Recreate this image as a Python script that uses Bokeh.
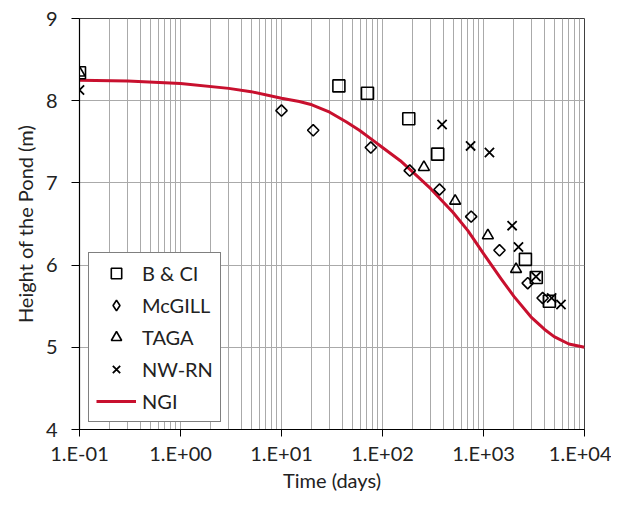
import math
from bokeh.plotting import figure
from bokeh.models import FixedTicker, Range1d, Legend, LegendItem
from bokeh.embed import file_html
from bokeh.resources import INLINE

# ---- data ----
bci_t = [0.1, 37, 71, 182, 352, 2600, 3330, 4490]
bci_h = [8.34, 8.18, 8.09, 7.78, 7.35, 6.07, 5.85, 5.56]

mcgill_t = [10, 20.6, 76.6, 186, 367, 755, 1440, 2740, 3850]
mcgill_h = [7.88, 7.64, 7.43, 7.15, 6.92, 6.59, 6.18, 5.78, 5.60]

taga_t = [0.1, 257, 524, 1105, 2100]
taga_h = [8.34, 7.19, 6.78, 6.36, 5.95]

nwrn_t = [0.1, 389, 745, 1145, 1920, 2220, 3310, 4730, 5850]
nwrn_h = [8.13, 7.71, 7.45, 7.37, 6.48, 6.22, 5.86, 5.60, 5.52]

ngi_t = [0.1, 0.3, 1, 3, 5, 10, 15, 20, 30, 44, 59, 80, 100, 150, 200, 300, 500,
         700, 1000, 1500, 2000, 3000, 4000, 5000, 7000, 10000]
ngi_h = [8.25, 8.24, 8.21, 8.15, 8.11, 8.03, 7.99, 7.95, 7.86, 7.74, 7.64, 7.52, 7.43,
         7.27, 7.13, 6.93, 6.64, 6.42, 6.14, 5.83, 5.62, 5.36, 5.22, 5.13, 5.04, 5.00]

x_ticks = [0.1, 1, 10, 100, 1000, 10000]
x_tick_labels = ["1.E-01", "1.E+00", "1.E+01", "1.E+02", "1.E+03", "1.E+04"]
y_ticks = [4, 5, 6, 7, 8, 9]

FONT = "Lato"
FS = "20px"

p = figure(width=611, height=494, x_axis_type="log",
           x_range=Range1d(0.1, 10000), y_range=Range1d(4, 9),
           output_backend="svg", toolbar_location=None,
           min_border_left=79, min_border_top=18, min_border_right=27, min_border_bottom=61)

p.outline_line_color = "#404040"
p.outline_line_width = 1

minor = [m * d for d in x_ticks[:-1] for m in range(2, 10)]
p.xaxis.ticker = FixedTicker(ticks=x_ticks, minor_ticks=minor)
p.xaxis.major_label_overrides = {t: l for t, l in zip(x_ticks, x_tick_labels)}
p.yaxis.ticker = FixedTicker(ticks=y_ticks)

for ax in (p.xaxis, p.yaxis):
    ax.major_tick_in = 0
    ax.minor_tick_in = 0
    ax.minor_tick_out = 0
    ax.axis_line_color = "black"
    ax.axis_line_width = 1.2
    ax.major_tick_line_color = "black"
    ax.major_label_text_font = FONT
    ax.major_label_text_font_size = FS
    ax.major_label_text_color = "#222222"
    ax.axis_label_text_font = FONT
    ax.axis_label_text_font_size = FS
    ax.axis_label_text_font_style = "normal"
    ax.axis_label_text_color = "#222222"

p.xaxis.axis_label = "Time (days)"
p.yaxis.axis_label = "Height of the Pond (m)"
p.xaxis.major_tick_out = 7
p.yaxis.major_tick_out = 8
p.xaxis.major_label_standoff = 4
p.xaxis.axis_label_standoff = 0
p.yaxis.major_label_standoff = 14
p.yaxis.axis_label_standoff = 6

p.xgrid.grid_line_color = "#aaaaaa"
p.xgrid.minor_grid_line_color = "#aaaaaa"
p.xgrid.grid_line_width = 1
p.xgrid.minor_grid_line_width = 1
p.ygrid.grid_line_color = "#aaaaaa"

ngi = p.line(ngi_t, ngi_h, line_color="#C8102E", line_width=3, line_join="round")
r_bci = p.scatter(bci_t, bci_h, marker="square", size=12, fill_color=None,
                  line_color="black", line_width=1.6)
r_mc = p.scatter(mcgill_t, mcgill_h, marker="square", angle=math.pi / 4, size=8,
                 fill_color=None, line_color="black", line_width=1.6)
r_mc_key = p.scatter(mcgill_t, mcgill_h, marker="diamond", size=12, fill_color=None,
                     line_color="black", line_width=1.6, visible=False)
r_ta = p.scatter(taga_t, taga_h, marker="triangle", size=11, fill_color=None,
                 line_color="black", line_width=1.6)
r_nw = p.scatter(nwrn_t, nwrn_h, marker="x", size=13, line_color="black", line_width=1.8)

legend = Legend(items=[
    LegendItem(label="B & CI", renderers=[r_bci]),
    LegendItem(label="McGILL", renderers=[r_mc_key]),
    LegendItem(label="TAGA", renderers=[r_ta]),
    LegendItem(label="NW-RN", renderers=[r_nw]),
    LegendItem(label="NGI", renderers=[ngi]),
], location=(9, 7))
legend.border_line_color = "black"
legend.border_line_width = 1
legend.background_fill_color = "white"
legend.background_fill_alpha = 1
legend.label_text_font = FONT
legend.label_text_font_size = FS
legend.label_text_color = "#222222"
legend.glyph_width = 40
legend.glyph_height = 26
legend.label_height = 26
legend.spacing = 6
legend.padding = 7
legend.margin = 0
legend.label_standoff = 6
p.add_layout(legend, "center")

open("out.html", "w").write(file_html(p, INLINE))
